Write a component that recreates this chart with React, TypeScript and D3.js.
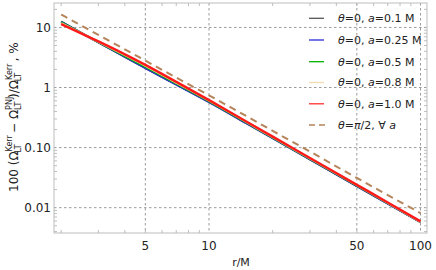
import React from "react";
import * as d3 from "d3";

// r/M sample positions
const R = [2, 3, 4, 5, 7, 10, 15, 20, 30, 50, 70, 100];
// relative difference in %, one series per legend entry
const seriesA01 = [12.45, 5.62, 3.24, 2.12, 1.125, 0.575, 0.256, 0.1436, 0.0638, 0.0229, 0.0117, 0.00574];
const seriesA025 = [12.4, 5.62, 3.23, 2.11, 1.12, 0.573, 0.255, 0.1433, 0.0637, 0.0229, 0.0117, 0.00573];
const seriesA05 = [12.1, 5.7, 3.33, 2.2, 1.16, 0.59, 0.262, 0.146, 0.0652, 0.0233, 0.0119, 0.00578];
const seriesA08 = [11.8, 5.78, 3.45, 2.3, 1.2, 0.603, 0.267, 0.149, 0.0662, 0.0237, 0.012, 0.00583];
const seriesA10 = [11.4, 5.84, 3.56, 2.38, 1.24, 0.616, 0.272, 0.152, 0.0672, 0.024, 0.0122, 0.0059];
const seriesEq = [16.4, 7.5, 4.32, 2.8, 1.46, 0.74, 0.335, 0.19, 0.086, 0.0312, 0.0162, 0.0081];

const aLabels = ["0.1", "0.25", "0.5", "0.8", "1.0"];
const xTicks = [5, 10, 50, 100];
const yTicks = [10, 1, 0.1, 0.01];
const yTickLabels = ["10", "1", "0.10", "0.01"];

const W = 436, H = 270;
const L = 54, Rt = 427, T = 3, B = 233;
const FONT = "DejaVu Sans, sans-serif";

export default function App() {
  const x = d3.scaleLog().domain([1.85, 107.3]).range([L, Rt]);
  const y = d3.scaleLog().domain([25.5, 0.00379]).range([T, B]);

  const series = [
    { v: seriesA01, c: "#3a3a3a", lc: "#555555", w: 2 },
    { v: seriesA025, c: "#2a2ad0", lc: "#2a2ad8", w: 2 },
    { v: seriesA05, c: "#00b400", lc: "#00b400", w: 2 },
    { v: seriesA08, c: "#f3dcae", lc: "#f3dcae", w: 2 },
    { v: seriesA10, c: "#ff1a1a", lc: "#ff3030", w: 2.5 },
  ];
  const line = d3
    .line<[number, number]>()
    .x((d) => x(d[0]))
    .y((d) => y(d[1]))
    .curve(d3.curveMonotoneX);

  const minorX: number[] = [];
  for (const dec of [1, 10]) for (let k = 2; k <= 9; k++) minorX.push(k * dec);
  const minorY: number[] = [];
  for (const dec of [0.001, 0.01, 0.1, 1, 10]) for (let k = 2; k <= 9; k++) {
    const v = k * dec;
    if (v >= 0.00379 && v <= 25.5) minorY.push(v);
  }

  const frame = "#bdbdbd";
  const grid = "#9a9a9a";

  const legendX0 = 309, legendX1 = 324, legendTX = 338;
  const rows = [18.3, 40, 61.7, 82.5, 103.8, 125];

  return (
    <svg width={W} height={H} style={{ position: "absolute", left: 0, top: 0 }} fontFamily={FONT}>
      <rect width={W} height={H} fill="#fff" />
      {/* grid */}
      {xTicks.map((t) => (
        <line key={"gx" + t} x1={x(t)} x2={x(t)} y1={T} y2={B} stroke={grid} strokeWidth={1} strokeDasharray="2.5,2.5" />
      ))}
      {yTicks.map((t) => (
        <line key={"gy" + t} x1={L} x2={Rt} y1={y(t)} y2={y(t)} stroke={grid} strokeWidth={1} strokeDasharray="2.5,2.5" />
      ))}
      {/* frame */}
      <rect x={L} y={T} width={Rt - L} height={B - T} fill="none" stroke={frame} strokeWidth={1} />
      {/* minor ticks */}
      {minorX.map((t) => (
        <g key={"mx" + t}>
          <line x1={x(t)} x2={x(t)} y1={B} y2={B - 3} stroke={frame} />
          <line x1={x(t)} x2={x(t)} y1={T} y2={T + 3} stroke={frame} />
        </g>
      ))}
      {minorY.map((t) => (
        <g key={"my" + t}>
          <line x1={L} x2={L + 3} y1={y(t)} y2={y(t)} stroke={frame} />
          <line x1={Rt} x2={Rt - 3} y1={y(t)} y2={y(t)} stroke={frame} />
        </g>
      ))}
      {/* curves */}
      {series.map((s, i) => (
        <path key={"s" + i} d={line(R.map((r, j) => [r, s.v[j]] as [number, number])) || ""} fill="none" stroke={s.c} strokeWidth={s.w} />
      ))}
      <path d={line(R.map((r, j) => [r, seriesEq[j]] as [number, number])) || ""} fill="none" stroke="#b5845a" strokeWidth={2} strokeDasharray="7,5" />
      {/* tick labels */}
      {xTicks.map((t) => (
        <text key={"tx" + t} x={x(t)} y={250} fontSize={12} textAnchor="middle" fill="#222">{t}</text>
      ))}
      {yTicks.map((t, i) => (
        <text key={"ty" + t} x={51} y={y(t)} dy="0.36em" fontSize={12} textAnchor="end" fill="#222">{yTickLabels[i]}</text>
      ))}
      <text x={241} y={266} fontSize={11} textAnchor="middle" fill="#222">r/M</text>
      {/* y label */}
      <g transform="translate(18,192) rotate(-90)">
        <text x={0} y={0} fontSize={12} fill="#222">
          <tspan>100 (Ω</tspan>
          <tspan fontSize={8} dy={-6}>Kerr</tspan>
          <tspan fontSize={8} dx={-17.4} dy={8.5}>LT</tspan>
          <tspan dx={7.6} dy={-2.5}> − Ω</tspan>
          <tspan fontSize={8} dy={-6}>PNJ</tspan>
          <tspan fontSize={8} dx={-13.2} dy={8.5}>LT</tspan>
          <tspan dx={3.8} dy={-2.5}>)/Ω</tspan>
          <tspan fontSize={8} dy={-6}>Kerr</tspan>
          <tspan fontSize={8} dx={-17.4} dy={8.5}>LT</tspan>
          <tspan dx={7.6} dy={-2.5}> , %</tspan>
        </text>
      </g>
      {/* legend */}
      {aLabels.map((a, i) => (
        <g key={"lg" + i}>
          <line x1={legendX0} x2={legendX1} y1={rows[i]} y2={rows[i]} stroke={series[i].lc} strokeWidth={1.3} />
          <text x={legendTX} y={rows[i]} dy="0.36em" fontSize={11} fill="#222">
            <tspan fontStyle="italic">θ</tspan>=0, <tspan fontStyle="italic">a</tspan>={a} M
          </text>
        </g>
      ))}
      <line x1={legendX0} x2={legendX1 + 4} y1={rows[5]} y2={rows[5]} stroke="#b5845a" strokeWidth={1.3} strokeDasharray="6,4" />
      <text x={legendTX} y={rows[5]} dy="0.36em" fontSize={11} fill="#222">
        <tspan fontStyle="italic">θ</tspan>=<tspan fontStyle="italic">π</tspan>/2, ∀ <tspan fontStyle="italic">a</tspan>
      </text>
    </svg>
  );
}
